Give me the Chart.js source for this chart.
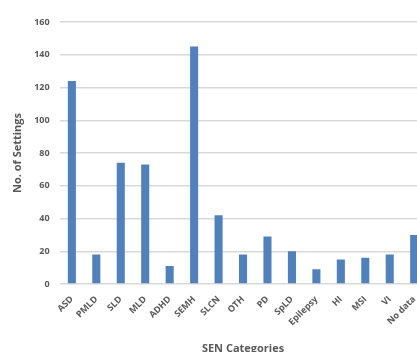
<!DOCTYPE html>
<html>
<head>
<meta charset="utf-8">
<script src="https://cdn.jsdelivr.net/npm/chart.js@4/dist/chart.umd.min.js"></script>
<style>
  html, body { margin: 0; padding: 0; background: #fff; overflow: hidden; }
  #wrap { width: 417px; height: 352px; overflow: hidden; position: relative; }
  #box { width: 432px; height: 355px; position: absolute; left: 0; top: 0; }
</style>
</head>
<body>
<div id="wrap"><div id="box"><canvas id="c"></canvas></div></div>
<script>
// SEN categories and number of settings per category
const categories = ["ASD", "PMLD", "SLD", "MLD", "ADHD", "SEMH", "SLCN", "OTH", "PD", "SpLD", "Epilepsy", "HI", "MSI", "VI", "No data"];
const settings = [124, 18, 74, 73, 11, 145, 42, 18, 29, 20, 9, 15, 16, 18, 30];
const yTicks = { min: 0, max: 160, step: 20 };

const tickFont = { family: "'Open Sans', sans-serif", size: 9, weight: 'bold' };
const titleFont = { family: "'Open Sans', sans-serif", size: 11, weight: 'bold' };

new Chart(document.getElementById('c'), {
  type: 'bar',
  data: {
    labels: categories,
    datasets: [{
      data: settings,
      backgroundColor: '#4f81bd',
      borderWidth: 0,
      barPercentage: 0.33,
      categoryPercentage: 1.0
    }]
  },
  options: {
    responsive: true,
    maintainAspectRatio: false,
    animation: false,
    layout: { padding: { top: 22, right: 5, left: 11, bottom: 0 } },
    plugins: { legend: { display: false }, tooltip: { enabled: false } },
    scales: {
      x: {
        grid: { display: false, drawTicks: false },
        border: { display: false },
        // fixed band for the rotated category labels and the axis title
        afterFit: (scale) => { scale.height = 71; },
        ticks: {
          color: '#595959',
          font: tickFont,
          maxRotation: 45, minRotation: 45,
          autoSkip: false,
          padding: 10
        },
        title: {
          display: true,
          text: 'SEN Categories',
          color: '#595959',
          font: titleFont,
          padding: { top: 4, bottom: 0 }
        }
      },
      y: {
        min: yTicks.min, max: yTicks.max,
        grid: { color: '#d9d9d9', lineWidth: 1.5, drawTicks: false },
        border: { display: false },
        ticks: {
          stepSize: yTicks.step,
          color: '#595959',
          font: tickFont,
          padding: 10
        },
        title: {
          display: true,
          text: 'No. of Settings',
          color: '#595959',
          font: titleFont,
          padding: { top: 0, bottom: 0 }
        }
      }
    }
  }
});
</script>
</body>
</html>
